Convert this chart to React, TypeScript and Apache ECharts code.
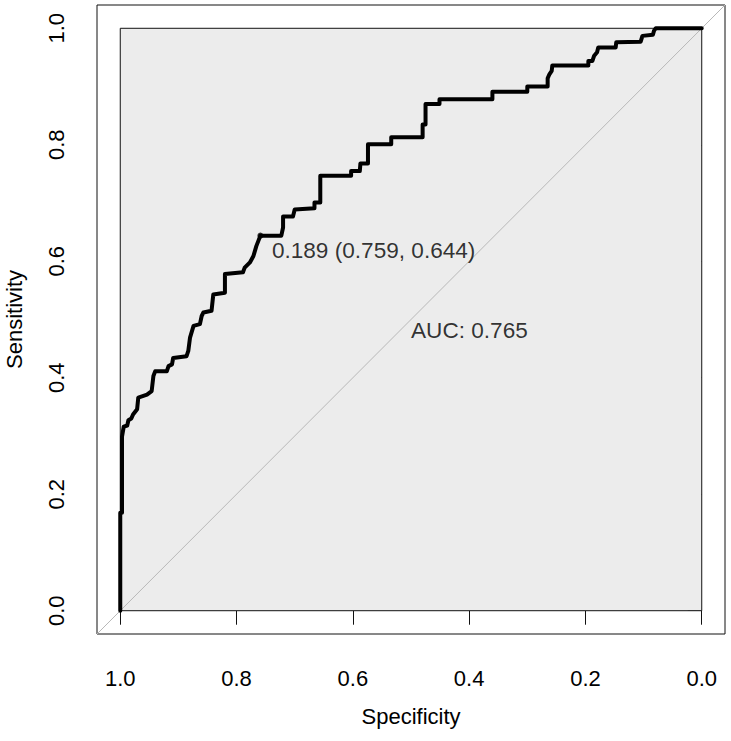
import React, { useEffect, useRef } from "react";
import * as echarts from "echarts";

// ROC curve corner points (specificity, sensitivity)
const specificity = [
  1.0, 1.0, 0.997, 0.997, 0.994, 0.988, 0.986, 0.981, 0.978, 0.971, 0.969, 0.954, 0.946, 0.943,
  0.94, 0.92, 0.917, 0.911, 0.909, 0.886, 0.883, 0.88, 0.874, 0.863, 0.86, 0.857, 0.843, 0.84,
  0.82, 0.82, 0.789, 0.786, 0.777, 0.771, 0.766, 0.759, 0.723, 0.72, 0.72, 0.703, 0.7, 0.666,
  0.666, 0.656, 0.656, 0.603, 0.603, 0.588, 0.587, 0.574, 0.574, 0.534, 0.534, 0.48, 0.48, 0.475,
  0.475, 0.451, 0.451, 0.36, 0.36, 0.3, 0.3, 0.265, 0.265, 0.262, 0.258, 0.257, 0.195, 0.195,
  0.188, 0.185, 0.18, 0.178, 0.148, 0.147, 0.105, 0.102, 0.084, 0.082, 0.079, 0.0,
];
const sensitivity = [
  0.0, 0.168, 0.168, 0.299, 0.316, 0.318, 0.327, 0.33, 0.337, 0.346, 0.366, 0.371, 0.377, 0.403,
  0.411, 0.411, 0.42, 0.423, 0.434, 0.437, 0.446, 0.469, 0.489, 0.492, 0.506, 0.512, 0.515, 0.543,
  0.546, 0.578, 0.581, 0.589, 0.598, 0.609, 0.626, 0.644, 0.644, 0.658, 0.677, 0.677, 0.689, 0.691,
  0.701, 0.701, 0.747, 0.747, 0.755, 0.755, 0.768, 0.768, 0.801, 0.801, 0.813, 0.813, 0.835, 0.835,
  0.87, 0.87, 0.878, 0.878, 0.891, 0.891, 0.9, 0.9, 0.914, 0.921, 0.927, 0.936, 0.936, 0.944,
  0.944, 0.953, 0.959, 0.967, 0.967, 0.976, 0.977, 0.987, 0.989, 0.996, 1.0, 1.0,
];

// Best threshold and area under the curve
const bestThreshold = 0.189;
const bestSpecificity = 0.759;
const bestSensitivity = 0.644;
const auc = 0.765;

const tickValues = [0, 0.2, 0.4, 0.6, 0.8, 1.0];

const FONT = "'Liberation Sans', Arial, Helvetica, sans-serif";

export default function App() {
  const ref = useRef<HTMLDivElement>(null);

  useEffect(() => {
    if (!ref.current) return;
    const chart = echarts.init(ref.current, null, { renderer: "svg" });
    const curve = specificity.map((s, i) => [s, sensitivity[i]]);
    const fmt = (v: number) => Number(v).toFixed(1);

    chart.setOption({
      animation: false,
      backgroundColor: "#ffffff",
      textStyle: { fontFamily: FONT },
      grid: {
        left: 97,
        right: 6,
        top: 5,
        bottom: 107,
        outerBoundsMode: "none",
        containLabel: false,
        show: true,
        borderColor: "#111",
        borderWidth: 1,
        backgroundColor: "transparent",
      },
      xAxis: {
        type: "value",
        min: -0.04,
        max: 1.04,
        inverse: true,
        splitLine: { show: false },
        axisLine: { show: false },
        axisTick: {
          show: true,
          length: 14,
          customValues: tickValues,
          lineStyle: { color: "#111", width: 1 },
        },
        axisLabel: {
          customValues: tickValues,
          formatter: fmt,
          fontSize: 22,
          color: "#000",
          margin: 33,
          fontFamily: FONT,
        },
        name: "Specificity",
        nameLocation: "middle",
        nameGap: 71,
        nameTextStyle: { fontSize: 22, color: "#000", fontFamily: FONT },
      },
      yAxis: {
        type: "value",
        min: -0.04,
        max: 1.04,
        splitLine: { show: false },
        axisLine: { show: false },
        axisTick: {
          show: true,
          length: 14,
          customValues: tickValues,
          lineStyle: { color: "#111", width: 1 },
        },
        axisLabel: {
          customValues: tickValues,
          formatter: fmt,
          fontSize: 22,
          color: "#000",
          rotate: 90,
          margin: 30,
          fontFamily: FONT,
        },
        name: "Sensitivity",
        nameLocation: "middle",
        nameGap: 72,
        nameTextStyle: { fontSize: 22, color: "#000", fontFamily: FONT },
      },
      series: [
        {
          // shaded unit square
          type: "line",
          data: [],
          z: 1,
          silent: true,
          markArea: {
            silent: true,
            itemStyle: { color: "#ececec", borderColor: "#111", borderWidth: 1 },
            data: [[{ coord: [1, 0] }, { coord: [0, 1] }]],
          },
        },
        {
          // chance diagonal
          type: "line",
          data: [
            [1.04, -0.04],
            [-0.04, 1.04],
          ],
          z: 2,
          silent: true,
          showSymbol: false,
          lineStyle: { color: "#b8b8b8", width: 1 },
        },
        {
          type: "line",
          data: curve,
          z: 3,
          silent: true,
          showSymbol: false,
          lineStyle: { color: "#000", width: 4, cap: "round", join: "round" },
        },
        {
          type: "scatter",
          data: [[bestSpecificity, bestSensitivity]],
          z: 4,
          silent: true,
          symbolSize: 6,
          itemStyle: { color: "#000" },
          label: {
            show: true,
            formatter: `${bestThreshold.toFixed(3)} (${bestSpecificity.toFixed(3)}, ${bestSensitivity.toFixed(3)})`,
            position: [14.5, 17.5],
            align: "left",
            verticalAlign: "middle",
            fontSize: 22.6,
            color: "#000",
            fontFamily: FONT,
          },
        },
        {
          type: "scatter",
          data: [[0.5, 0.5]],
          z: 4,
          silent: true,
          symbolSize: 1,
          itemStyle: { color: "transparent" },
          label: {
            show: true,
            formatter: `AUC: ${auc.toFixed(3)}`,
            position: [0.5, 11.5],
            align: "left",
            verticalAlign: "middle",
            fontSize: 22.6,
            color: "#000",
            fontFamily: FONT,
          },
        },
      ],
    });

    return () => chart.dispose();
  }, []);

  return (
    <div
      ref={ref}
      style={{ position: "absolute", left: 0, top: 0, width: 731, height: 741 }}
    />
  );
}
